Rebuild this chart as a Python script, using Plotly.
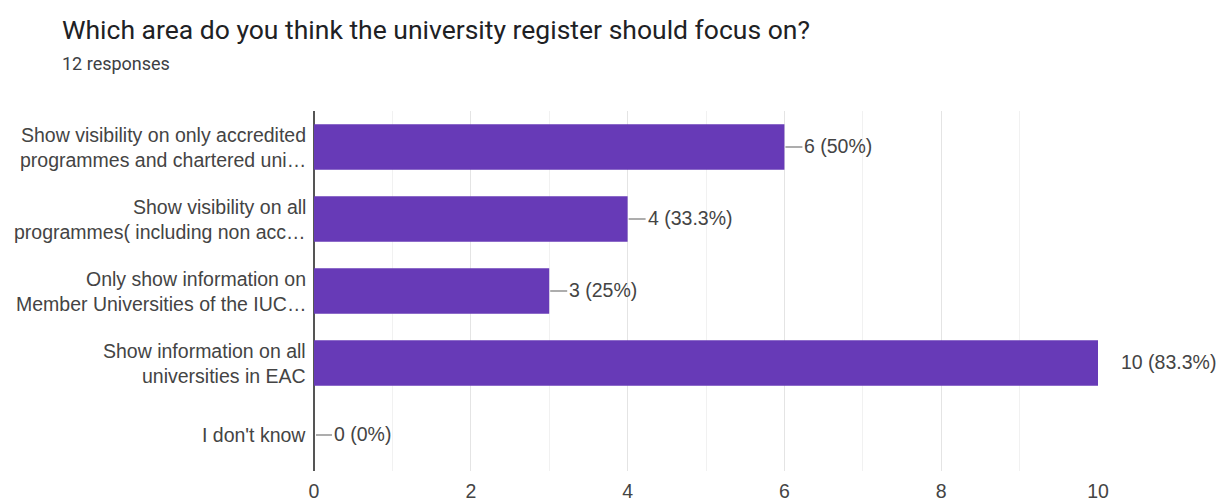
import plotly.graph_objects as go

# Survey results: responses per option
title = "Which area do you think the university register should focus on?"
subtitle = "12 responses"
total_responses = 12

category_lines = [
    ["Show visibility on only accredited", "programmes and chartered uni…"],
    ["Show visibility on all", "programmes( including non acc…"],
    ["Only show information on", "Member Universities of the IUC…"],
    ["Show information on all", "universities in EAC"],
    ["I don't know"],
]
counts = [6, 4, 3, 10, 0]
x_ticks = [0, 2, 4, 6, 8, 10]

categories = [" ".join(c) for c in category_lines]
labels = [f"{v} ({round(v / total_responses * 100, 1):g}%)" for v in counts]

BAR = "#673ab7"
TXT = "#444444"
FONT = "Liberation Sans, Arial, sans-serif"
FS = 19.5
xmax = max(x_ticks)

W, H = 1223, 502
ML, MR, MT, MB = 314, 125, 111, 31
plot_w = W - ML - MR
plot_h = H - MT - MB

fig = go.Figure(
    go.Bar(
        x=counts,
        y=categories,
        orientation="h",
        marker=dict(color=BAR, line=dict(width=0)),
        hoverinfo="skip",
    )
)

annotations = []
shapes = []

# category labels, one annotation per line so the line spacing can be set
for cat, lines in zip(categories, category_lines):
    n = len(lines)
    for i, line in enumerate(lines):
        annotations.append(dict(
            x=0, xref="paper", y=cat, yref="y", text=line, showarrow=False,
            xanchor="right", yanchor="middle", xshift=-6,
            yshift=(n - 1) * 12.5 - i * 25,
            font=dict(family=FONT, size=FS, color=TXT),
        ))

# value labels with short leader lines
for cat, v, lab in zip(categories, counts, labels):
    if v < xmax:
        shapes.append(dict(
            type="line", xref="x", yref="y", xsizemode="pixel", xanchor=v,
            x0=2 if v == 0 else 1, x1=18, y0=cat, y1=cat,
            line=dict(color="#777777", width=1.2),
        ))
        shift = 18
    else:
        shift = 21
    annotations.append(dict(
        x=v, xref="x", y=cat, yref="y", text=lab, showarrow=False,
        xanchor="left", yanchor="middle", xshift=shift, yshift=1,
        font=dict(family=FONT, size=FS, color=TXT),
    ))

# title and subtitle
annotations.append(dict(
    x=(60 - ML) / plot_w, xref="paper", y=(H - MB - 30) / plot_h, yref="paper",
    text=title, showarrow=False, xanchor="left", yanchor="middle",
    font=dict(family="Roboto, sans-serif", size=26.5, color="#202124"),
))
annotations.append(dict(
    x=(60 - ML) / plot_w, xref="paper", y=(H - MB - 63) / plot_h, yref="paper",
    text=subtitle, showarrow=False, xanchor="left", yanchor="middle",
    font=dict(family="Roboto, sans-serif", size=18, color="#3c4043"),
))

fig.update_layout(
    width=W,
    height=H,
    margin=dict(l=ML, r=MR, t=MT, b=MB, autoexpand=False),
    paper_bgcolor="white",
    plot_bgcolor="white",
    showlegend=False,
    bargap=0.37,
    annotations=annotations,
    shapes=shapes,
    xaxis=dict(
        range=[0, xmax],
        tickvals=x_ticks,
        ticks="",
        automargin=False,
        ticklabelstandoff=6,
        tickfont=dict(family=FONT, size=FS, color=TXT),
        showgrid=True,
        gridcolor="#e4e4e4",
        gridwidth=1,
        minor=dict(dtick=1, showgrid=True, gridcolor="#f1f1f1", gridwidth=1),
        zeroline=True,
        zerolinecolor="#555555",
        zerolinewidth=2,
        showline=False,
        fixedrange=True,
    ),
    yaxis=dict(
        categoryorder="array",
        categoryarray=categories[::-1],
        showticklabels=False,
        ticks="",
        automargin=False,
        showgrid=False,
        zeroline=False,
        showline=False,
        fixedrange=True,
    ),
)

fig.write_html("out.html")
